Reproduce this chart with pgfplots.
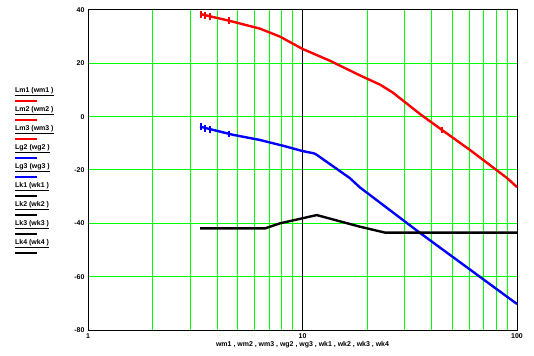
\documentclass[border=0pt]{standalone}
\usepackage{fontspec}
\setmainfont{Liberation Sans}
\usepackage{pgfplots}
\pgfplotsset{compat=1.18}
\definecolor{gr}{RGB}{0,255,0}
\begin{document}
\begin{tikzpicture}
\path[use as bounding box] (-88bp,-26bp) rectangle (446bp,330bp);
\begin{axis}[
  at={(0,0)}, anchor=south west,
  scale only axis, width=429bp, height=320bp,
  xmode=log, xmin=1, xmax=100, ymin=-80, ymax=40,
  ytick={-80,-60,-40,-20,0,20,40},
  xtick={1,10,100}, xticklabels={1,10,100},
  minor xtick={2,3,4,5,6,7,8,9,20,30,40,50,60,70,80,90},
  grid=both,
  major grid style={gr, line width=1pt},
  minor grid style={gr, line width=1pt},
  axis line style={black, line width=1pt},
  tick style={draw=none},
  tick label style={font=\fontsize{7}{8}\selectfont\bfseries},
  /pgf/number format/assume math mode=true,
  xlabel={wm1 , wm2 , wm3 , wg2 , wg3 , wk1 , wk2 , wk3 , wk4},
  xlabel style={font=\fontsize{7}{8}\selectfont\bfseries, yshift=4pt},
  clip=false,
]
\addplot[black, line width=1pt, forget plot] coordinates {(10,-80) (10,40)};
% red
\addplot[red, line width=2.4pt] coordinates {
(3.33,38.5) (4.59,35.9) (6.34,33) (7.86,30) (10,25.4) (13.4,21) (18.5,15.5) (23,12) (26.4,9) (35.3,1) (44.7,-5) (60.4,-12.5) (89.8,-23) (100,-26.4)};
\addplot[red, only marks, mark=|, mark size=3.5pt, line width=2pt] coordinates {
(3.36,38.4) (3.51,38.0) (3.70,37.5) (4.54,35.9) (44.7,-5)};
% blue
\addplot[blue, line width=2.4pt] coordinates {
(3.33,-3.75) (4.74,-6.8) (6.34,-8.75) (8.11,-10.9) (10,-12.9) (11.3,-13.75) (11.6,-14.2) (16.6,-23) (18.5,-26.5) (35.3,-43.6) (100,-70.25)};
\addplot[blue, only marks, mark=|, mark size=3.5pt, line width=2pt] coordinates {
(3.36,-3.8) (3.51,-4.3) (3.70,-4.8) (4.54,-6.5)};
% black
\addplot[black, line width=2.4pt] coordinates {
(3.33,-41.9) (6.69,-41.9) (7.86,-40) (10,-38.1) (11.65,-36.9) (18.5,-41.25) (24.3,-43.5) (100,-43.5)};
\end{axis}
\begin{scope}[font=\fontsize{7}{8}\selectfont\bfseries]
\foreach \t/\c [count=\i from 0] in {Lm1 (wm1 )/red, Lm2 (wm2 )/red, Lm3 (wm3 )/red, Lg2 (wg2 )/blue, Lg3 (wg3 )/blue, Lk1 (wk1 )/black, Lk2 (wk2 )/black, Lk3 (wk3 )/black, Lk4 (wk4 )/black}{
  \pgfmathsetmacro{\yy}{330-92-19*\i}
  \node[anchor=west, inner sep=0pt] at (-73bp,\yy bp) {\underline{\t}};
  \draw[\c, line width=2.4pt] (-73bp,\yy bp-9bp) -- (-51bp,\yy bp-9bp);
}
\end{scope}
\end{tikzpicture}
\end{document}
